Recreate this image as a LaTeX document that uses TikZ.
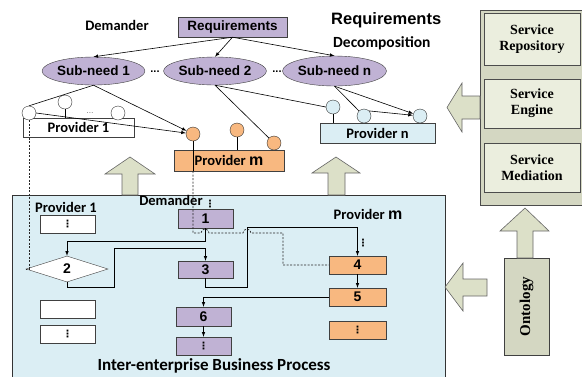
\documentclass[tikz,border=0pt]{standalone}
\usepackage{fontspec}
\usepackage{tikz}
\usepackage{xcolor}
\usetikzlibrary{shapes,arrows,positioning}

\newfontfamily\calfont{Carlito}
\newfontfamily\arialfont{Liberation Sans}
\newfontfamily\timesfont{Liberation Serif}
\newfontfamily\symfont{DejaVu Sans}

\definecolor{reqpurple}{RGB}{192,178,212}
\definecolor{provorange}{RGB}{248,184,128}
\definecolor{procblue}{RGB}{219,238,244}
\definecolor{arrowgreen}{RGB}{220,224,200}
\definecolor{panelgreen}{RGB}{212,215,194}
\definecolor{innergreen}{RGB}{235,238,222}

\tikzset{
  every node/.style={inner sep=0pt},
  lbl/.style={font=\calfont\bfseries\fontsize{14.5}{14.5}\selectfont},
  needell/.style={ellipse, draw=black!75, fill=reqpurple, minimum height=28pt,
    font=\arialfont\bfseries\fontsize{13.5}{13.5}\selectfont},
  provbox/.style={rectangle, draw=black!75, minimum height=20pt,
    font=\calfont\bfseries\fontsize{14.5}{14.5}\selectfont},
  plug/.style={circle, draw=black!80, minimum size=14pt},
  taskbox/.style={rectangle, draw=black!75, minimum width=55pt, minimum height=18pt,
    font=\arialfont\bfseries\fontsize{14}{14}\selectfont},
  svcbox/.style={rectangle, draw=black!70, fill=innergreen, align=center,
    font=\timesfont\bfseries\fontsize{14}{16}\selectfont},
  bigarrow/.style={draw=black!60, fill=arrowgreen, line width=0.6pt},
  link/.style={draw=black, line width=0.6pt},
  flow/.style={draw=black, line width=0.6pt, ->, >=latex},
  dashline/.style={draw=black!85, line width=0.7pt, dash pattern=on 2pt off 1.5pt}
}

\newcommand{\vdts}{{\symfont\bfseries\fontsize{10}{10}\selectfont ⋮}}

\begin{document}
\begin{tikzpicture}[x=1pt,y=-1pt]
\useasboundingbox (0,0) rectangle (582,376);

% process background
\fill[procblue] (12,195) rectangle (445,380);
\draw[black!80, line width=0.7pt] (12,380) -- (12,195) -- (445,195) -- (445,380);

% requirements and sub-needs
\node[rectangle, draw=black!75, fill=reqpurple, minimum width=109pt, minimum height=20pt,
  font=\arialfont\bfseries\fontsize{13.5}{13.5}\selectfont] (req) at (232.5,27) {Requirements};
\node[lbl] (demtop) at (117,25) {Demander};
\node[anchor=west, font=\arialfont\bfseries\fontsize{16.5}{16.5}\selectfont] (rdtitle) at (331,20) {Requirements};
\node[anchor=west, font=\calfont\bfseries\fontsize{15.5}{15.5}\selectfont] (rdsub) at (333,43) {Decomposition};

\node[needell, minimum width=93pt] (sub1) at (93.5,71) {Sub-need 1};
\node[needell, minimum width=94pt] (sub2) at (215,71) {Sub-need 2};
\node[needell, minimum width=95pt, minimum height=30pt] (subn) at (334.5,71) {Sub-need n};
\node[font=\arialfont\bfseries\fontsize{11}{11}\selectfont] (gap1) at (155,72) {...};
\node[font=\arialfont\bfseries\fontsize{11}{11}\selectfont] (gap2) at (277,72) {...};

% providers
\node[provbox, fill=white, minimum width=111pt, minimum height=19pt] (p1) at (78.5,127.5) {Provider 1};
\node[plug, fill=white] (p1a) at (29,113) {};
\node[plug, fill=white] (p1b) at (65,102) {};
\node[plug, fill=white] (p1c) at (118,113) {};
\node[font=\fontsize{8}{8}\selectfont] (p1gap) at (90,113) {...};

\node[provbox, fill=provorange, minimum width=110pt, minimum height=21pt] (pm) at (229,160.5)
  {Provider {\arialfont\fontsize{16}{16}\selectfont m}};
\node[plug, fill=provorange] (pma) at (193,134) {};
\node[plug, fill=provorange] (pmb) at (237,130) {};
\node[plug, fill=provorange] (pmc) at (274,143) {};

\node[provbox, fill=procblue, minimum width=115pt] (pn) at (377.5,133) {Provider n};
\node[plug, fill=procblue] (pna) at (333,107) {};
\node[plug, fill=procblue] (pnb) at (364,116) {};
\node[plug, fill=procblue] (pnc) at (420,116) {};

% decomposition links
\draw[flow] (req.south) -- (sub1.north);
\draw[flow] (req.south) -- (sub2.north);
\draw[flow] (req.south) -- (subn.north);
\draw[link] (sub1.south) -- (p1a.north);
\draw[flow] (sub1.south) -- (pma);
\draw[flow] (p1a.east) -- (pma);
\draw[link] (sub2.south) -- (pmc);
\draw[link] (sub2.south) -- (pna.west);
\draw[link] (subn.south) -- (pnb);
\draw[flow] (subn.south) -- (pnc);
\draw[flow] (pnb.north east) -- (pnc);
\draw[link] (p1b.south) -- (p1b |- p1.north);
\draw[link] (pmb.south) -- (pmb |- pm.north);
\draw[link] (pna.south) -- (pna |- pn.north);
\draw[link] (pma.south) -- (pma |- pm.south);

% big arrows
\draw[bigarrow] (130,157) -- (155,174) -- (138,174) -- (138,195) -- (122,195) -- (122,174) -- (105,174) -- cycle;
\draw[bigarrow] (336,157) -- (360,173) -- (345,173) -- (345,195) -- (328,195) -- (328,173) -- (312,173) -- cycle;

% service panel
\draw[black!70, fill=panelgreen, line width=0.8pt] (480,10) rectangle (583,205);
\node[svcbox, minimum width=96pt, minimum height=52pt] (repo) at (532,39) {Service\\Repository};
\node[svcbox, minimum width=96pt, minimum height=49pt] (engine) at (532,103.5) {Service\\Engine};
\node[svcbox, minimum width=96pt, minimum height=49pt] (media) at (532,167.5) {Service\\Mediation};
\draw[bigarrow] (447,107.5) -- (462,83) -- (462,96) -- (480,96) -- (480,119) -- (462,119) -- (462,132) -- cycle;

\node[rectangle, draw=black!75, fill=panelgreen, rotate=90, minimum width=97pt, minimum height=45pt,
  font=\timesfont\bfseries\fontsize{15}{15}\selectfont] (onto) at (526.5,306.5) {Ontology};
\draw[bigarrow] (525,208) -- (549,231) -- (533,231) -- (533,258) -- (517,258) -- (517,231) -- (500,231) -- cycle;
\draw[bigarrow] (445,287) -- (463,263) -- (463,279) -- (487,279) -- (487,296) -- (463,296) -- (463,311) -- cycle;

% process content
\node[lbl] (prov1lbl) at (66,207) {Provider 1};
\node[lbl] (demlbl) at (171,200) {Demander};
\node[lbl] (provmlbl) at (368,214) {Provider {\arialfont\fontsize{16}{16}\selectfont m}};

\node[taskbox, fill=white] (w1) at (67.5,224) {\vdts};
\node[diamond, draw=black!75, fill=white, aspect=3.15, minimum width=82pt, minimum height=26pt,
  font=\arialfont\bfseries\fontsize{14}{14}\selectfont] (d2) at (67,269) {2};
\node[taskbox, fill=white] (w2) at (67.5,309) {};
\node[taskbox, fill=white] (w3) at (67.5,334) {\vdts};

\node[taskbox, fill=reqpurple, minimum height=19pt] (b1) at (205.5,218.5) {1};
\node[taskbox, fill=reqpurple, minimum height=17pt] (b3) at (205.5,269.5) {3};
\node[taskbox, fill=reqpurple, minimum height=19pt] (b6) at (203.5,316.5) {6};
\node[taskbox, fill=reqpurple] (b7) at (203.5,346) {\vdts};
\node (dots1) at (210,204) {\vdts};

\node[taskbox, fill=provorange, minimum width=57pt] (b4) at (357.5,265) {4};
\node[taskbox, fill=provorange, minimum width=57pt] (b5) at (357.5,297) {5};
\node[taskbox, fill=provorange, minimum width=57pt] (b8) at (357.5,330) {\vdts};
\node (dots4) at (363,243) {\vdts};

\node[font=\calfont\bfseries\fontsize{17}{17}\selectfont] (ieplbl) at (214,366) {Inter-enterprise Business Process};

% flow links
\draw[flow] (b1.south) -- ++(0,13) -| (d2.north);
\draw[flow] (d2.south) -- ++(0,5) -| ++(47,-39) -| (b3.north);
\draw[flow] (b3.south) -- ++(0,9) -| ++(42,-60) -| (b4.north);
\draw[flow] (b4) -- (b5);
\draw[flow] (b5.west) -| (b6.north);
\draw[flow] (b6) -- (b7);

% message links
\draw[dashline] (p1a.south) |- (d2.west);
\draw[dashline] (pma |- pm.south) |- (201,233) arc[start angle=180, end angle=360, radius=4]
  -- (243,233) arc[start angle=180, end angle=360, radius=4] -| (283,265) -- (b4.west);
\end{tikzpicture}
\end{document}
